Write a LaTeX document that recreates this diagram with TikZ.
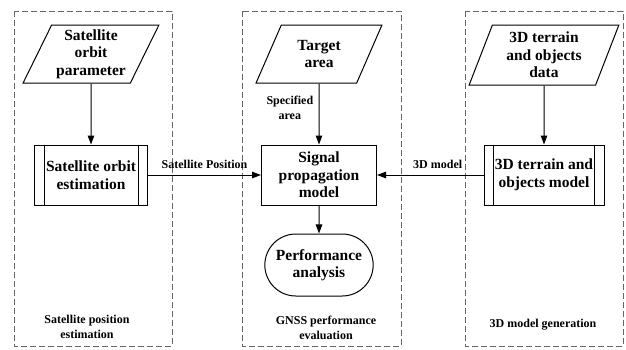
\documentclass[tikz,border=0pt]{standalone}
\usepackage{fontspec}
\setmainfont{Liberation Serif}
\usetikzlibrary{calc}
\usetikzlibrary{positioning}
\usetikzlibrary{shapes.geometric}
\usetikzlibrary{shapes.misc}
\usetikzlibrary{arrows.meta}

\tikzset{
  big text/.style={font=\fontsize{15.5}{17.5}\selectfont\bfseries,align=center},
  small text/.style={font=\fontsize{12}{14.5}\selectfont\bfseries,align=center},
  data in/.style={big text,draw,line width=1pt,trapezium,trapezium left angle=63,trapezium right angle=117,trapezium stretches=true,minimum height=58pt,inner sep=1pt},
  process/.style={big text,draw,line width=1pt,minimum width=113pt,minimum height=60pt},
  sub process/.style={process},
  terminal/.style={big text,draw,line width=1pt,rounded rectangle,minimum width=115pt,minimum height=62pt},
  group/.style={draw=black!60,line width=0.7pt,dash pattern=on 6pt off 3pt},
  flow/.style={line width=1pt,-{Triangle[length=9pt,width=6.5pt]}}
}

\begin{document}
\begin{tikzpicture}[x=1pt,y=-1pt]
\useasboundingbox (0,0) rectangle (626,349);

% dashed groups
\draw[group] (14,11) rectangle (172,346);
\draw[group] (242,11) rectangle (401,346);
\draw[group] (465,11) rectangle (623,346);

% left column
\node[data in,minimum width=136pt] (orbit par) at (91,54) {Satellite\\orbit\\parameter};
\node[sub process] (orbit est) at (91,175) {Satellite orbit\\estimation};
\node[small text] (left lbl) at (87,327) {Satellite position\\estimation};

% middle column
\node[data in,minimum width=126pt] (target) at (319,54) {Target\\area};
\node[process,minimum width=115pt] (sig model) at (319,175) {Signal\\propagation\\model};
\node[terminal,below=28pt of sig model] (perf) {Performance\\analysis};
\node[small text] (mid lbl) at (326,328) {GNSS performance\\evaluation};

% right column
\node[data in,trapezium left angle=70,trapezium right angle=110,minimum width=150pt,minimum height=60pt] (terrain data) at (544,55) {3D terrain\\and objects\\data};
\node[sub process,minimum width=120pt] (terrain mod) at (544,175) {3D terrain and\\objects model};
\node[small text] (right lbl) at (543,325) {3D model generation};

% side bars of the sub processes
\foreach \n in {orbit est,terrain mod}
  \draw[line width=1pt] ($(\n.north west)+(10,0)$) -- ($(\n.south west)+(10,0)$)
    ($(\n.north east)-(10,0)$) -- ($(\n.south east)-(10,0)$);

% flows
\draw[flow] (orbit par) -- (orbit est);
\draw[flow] (target) -- node[small text,left=2pt,pos=0.4] {Specified\\area} (sig model);
\draw[flow] (terrain data) -- (terrain mod);
\draw[flow] (orbit est) -- node[small text,above=3pt] {Satellite Position} (sig model);
\draw[flow] (terrain mod) -- node[small text,above=3pt,pos=0.43] {3D model} (sig model);
\draw[flow] (sig model) -- (perf);
\end{tikzpicture}
\end{document}
